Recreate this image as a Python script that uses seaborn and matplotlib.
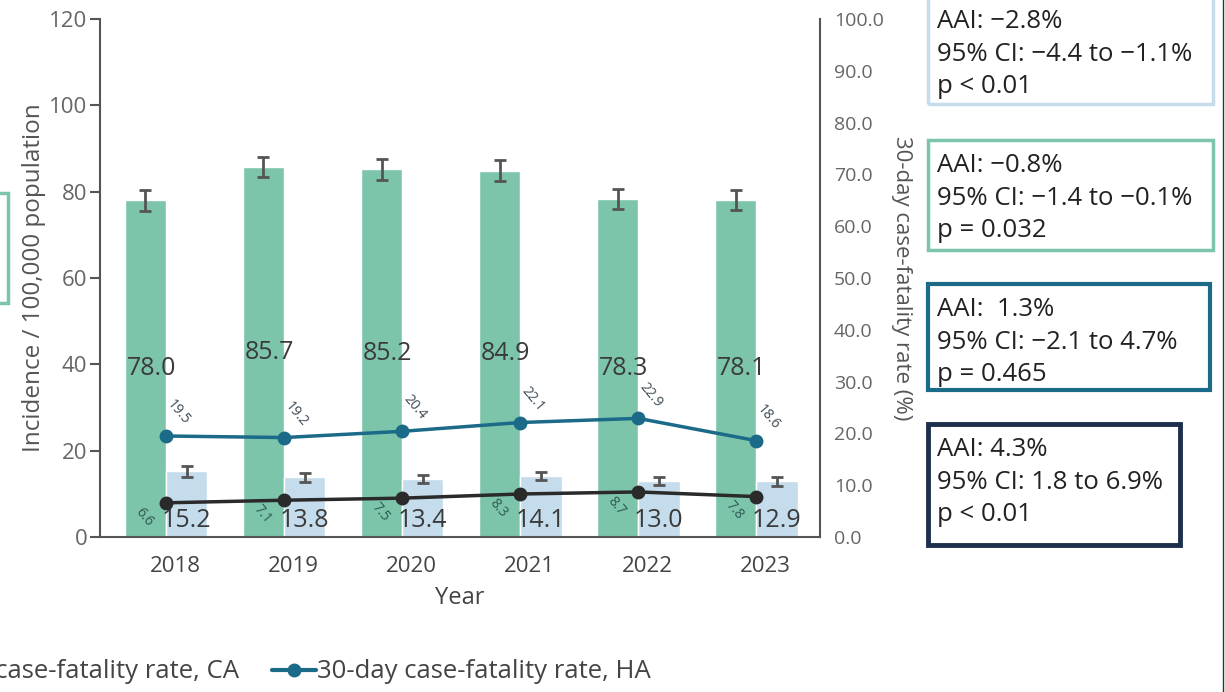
import pandas as pd
import numpy as np
import matplotlib.pyplot as plt
import seaborn as sns
from matplotlib.patches import Rectangle
from matplotlib.lines import Line2D

# Data
years = ['2018', '2019', '2020', '2021', '2022', '2023']
incidence_ha = [78.0, 85.7, 85.2, 84.9, 78.3, 78.1]
incidence_ha_err = [2.4, 2.4, 2.4, 2.4, 2.3, 2.3]
incidence_ca = [15.2, 13.8, 13.4, 14.1, 13.0, 12.9]
incidence_ca_err = [1.2, 1.0, 1.0, 1.0, 0.9, 1.0]
cfr_ha = [19.5, 19.2, 20.4, 22.1, 22.9, 18.6]
cfr_ca = [6.6, 7.1, 7.5, 8.3, 8.7, 7.8]

box_texts = [
    "AAI: \u22122.8%\n95% CI: \u22124.4 to \u22121.1%\np < 0.01",
    "AAI: \u22120.8%\n95% CI: \u22121.4 to \u22120.1%\np = 0.032",
    "AAI:  1.3%\n95% CI: \u22122.1 to 4.7%\np = 0.465",
    "AAI: 4.3%\n95% CI: 1.8 to 6.9%\np < 0.01",
]

GREEN = '#7cc5ab'
LIGHTBLUE = '#c4dceb'
TEAL = '#1b6a88'
DARK = '#2a2a2a'
NAVY = '#1d2f4c'
GRAY = '#555555'

sns.set_style('white')
plt.rcParams['font.family'] = ['Open Sans', 'DejaVu Sans']

df = pd.DataFrame({
    'year': years * 2,
    'value': incidence_ha + incidence_ca,
    'group': ['Incidence, HA'] * 6 + ['Incidence, CA'] * 6,
})

fig = plt.figure(figsize=(12.25, 6.92), dpi=100)
ax = fig.add_axes([100 / 1225, 1 - 537 / 692, 720 / 1225, 518 / 692])

sns.barplot(data=df, x='year', y='value', hue='group', palette=[GREEN, LIGHTBLUE],
            width=0.7, errorbar=None, legend=False, ax=ax, saturation=1)

# error bars + value labels on bars
for cont, errs, vals, kind in zip(ax.containers, [incidence_ha_err, incidence_ca_err],
                                  [incidence_ha, incidence_ca], ['ha', 'ca']):
    xs = [p.get_x() + p.get_width() / 2 for p in cont.patches]
    ax.errorbar(xs, vals, yerr=errs, fmt='none', ecolor=GRAY, elinewidth=2,
                capsize=4, capthick=2, zorder=5)
    for p, v in zip(cont.patches, vals):
        if kind == 'ha':
            ax.text(p.get_x() + 0.02, v / 2, f'{v:.1f}', ha='left', va='center',
                    fontsize=18, color='#3a3a3a', zorder=6)
        else:
            ax.annotate(f'{v:.1f}', xy=(p.get_x() + p.get_width() / 2, 0),
                        xytext=(0, 12), textcoords='offset points', ha='center',
                        va='center', fontsize=18, color='#3a3a3a', zorder=6)

ax.set_ylim(0, 120)
ax.set_xlim(-0.56, 5.54)
ax.set_yticks(range(0, 121, 20))
ax.set_xlabel('Year', fontsize=17, color='#444444', labelpad=6)
ax.set_ylabel('Incidence / 100,000 population', fontsize=17.5, color='#555555', labelpad=2)
ax.set_xticks(np.arange(6) + 0.08)
ax.set_xticklabels(years)
ax.tick_params(axis='x', length=0, labelsize=16, labelcolor='#444444', pad=14)
ax.tick_params(axis='y', direction='out', length=7, width=1.5, color=GRAY,
               labelsize=16, labelcolor='#666666', left=True, pad=2)
for s in ['left', 'bottom']:
    ax.spines[s].set_color(GRAY)
    ax.spines[s].set_linewidth(1.5)
ax.spines['top'].set_visible(False)
ax.spines['right'].set_visible(False)

# right axis: case-fatality lines
ax2 = ax.twinx()
line_df = pd.DataFrame({'x': list(range(6)) * 2, 'rate': cfr_ha + cfr_ca,
                        'series': ['HA'] * 6 + ['CA'] * 6})
sns.lineplot(data=line_df, x='x', y='rate', hue='series', palette={'HA': TEAL, 'CA': DARK},
             marker='o', markersize=10, linewidth=2.5, markeredgewidth=0, legend=False, ax=ax2)
ax2.set_ylim(0, 100)
ax2.set_xlim(-0.56, 5.54)
ax2.set_yticks(range(0, 101, 10))
ax2.set_yticklabels([f'{t:.1f}' for t in range(0, 101, 10)])
ax2.tick_params(axis='y', length=0, labelsize=14, labelcolor='#666666', pad=10)
ax2.set_ylabel('30-day case-fatality rate (%)', fontsize=16, color='#555555',
               rotation=270, labelpad=20)
ax2.set_xlabel('')
for s in ['top', 'left', 'bottom']:
    ax2.spines[s].set_visible(False)
ax2.spines['right'].set_color(GRAY)
ax2.spines['right'].set_linewidth(1.5)

for i, v in enumerate(cfr_ha):
    ax2.annotate(f'{v:.1f}', xy=(i, v), xytext=(9, 17), textcoords='offset points',
                 ha='center', va='center', rotation=-50, fontsize=10, color='#3c4a55')
for i, v in enumerate(cfr_ca):
    ax2.annotate(f'{v:.1f}', xy=(i, v), xytext=(-16, -10), textcoords='offset points',
                 ha='center', va='center', rotation=-50, fontsize=10, color='#2d5a50')

# annotation boxes on the right
boxes = [  # x0, y_top, x1, y_bottom (pixels), colour, linewidth
    (928, -4, 1213, 104, LIGHTBLUE, 2.5),
    (928, 140, 1213, 250, GREEN, 2.5),
    (928, 284, 1210, 390, TEAL, 3),
    (928, 424, 1180, 545, NAVY, 3.5),
]
for (x0, y0, x1, y1, col, lw), txt in zip(boxes, box_texts):
    fig.patches.append(Rectangle((x0 / 1225, 1 - y1 / 692), (x1 - x0) / 1225, (y1 - y0) / 692,
                                 transform=fig.transFigure, fill=False, edgecolor=col, lw=lw))
    fig.text((x0 + 9) / 1225, 1 - (y0 + 13) / 692, txt, ha='left', va='top',
             fontsize=18.5, color='#222222', linespacing=1.4)

# partial box cut at left edge and frame line at right edge
fig.patches.append(Rectangle((-20 / 1225, 1 - 303 / 692), 28 / 1225, 110 / 692,
                             transform=fig.transFigure, fill=False, edgecolor=GREEN, lw=2.5))
fig.lines.append(Line2D([1223 / 1225, 1223 / 1225], [0, 1], transform=fig.transFigure,
                        color='#333333', lw=1))

# legend (cut at left edge like the reference)
handles = [Line2D([], [], color=DARK, marker='o', lw=3, markersize=9),
           Line2D([], [], color=TEAL, marker='o', lw=3, markersize=9)]
fig.legend(handles, ['30-day case-fatality rate, CA', '30-day case-fatality rate, HA'],
           ncol=2, loc='center right', bbox_to_anchor=(674 / 1225, 1 - 672 / 692),
           frameon=False, fontsize=18.5, handlelength=1.7, handletextpad=0.05,
           columnspacing=1.3, labelcolor='#444444')

plt.savefig('out.png', dpi=100)
